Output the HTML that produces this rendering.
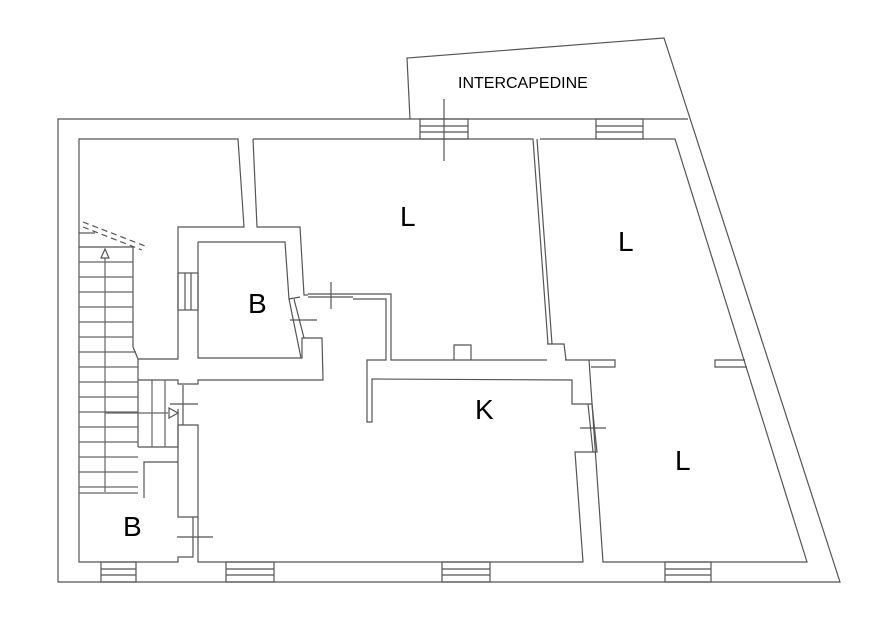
<!DOCTYPE html>
<html><head><meta charset="utf-8"><style>
html,body{margin:0;padding:0;background:#fff;width:895px;height:634px;overflow:hidden}
svg{display:block}
text{font-family:"Liberation Sans",sans-serif;fill:#000}
</style></head><body>
<svg width="895" height="634" viewBox="0 0 895 634" xmlns="http://www.w3.org/2000/svg">
<g fill="none" stroke="#555" stroke-width="1.2">
<!-- intercapedine -->
<polyline points="410,119 407,58 664,38 840,582 58,582 58,119 688,119"/>
<!-- left room -->
<polyline points="79,498 79,139 238,139 244,227 178,227 178,359 138,359 133,347 133,247"/>
<!-- L1 -->
<polyline points="253,139 257,227 300,227 304,295 308,295"/>
<polyline points="253,139 533,139 548,344"/>
<polyline points="308,297 353,297"/>
<polyline points="308,294 353,294 391,294 391,360 547,360"/>
<polyline points="353,299 386,299 386,360 367,360 367,422 372,422 372,379 572,380 572,404 592,404"/>
<!-- B room -->
<polyline points="198,242 285,242 289,299 300,297"/>
<polyline points="198,242 198,358 302,358 302,338 322,338 323,380 198,380 198,384 178,384 178,380 138,380"/>
<polyline points="289,299 301,358"/>
<polyline points="294,299 304,338"/>
<!-- L2 -->
<polyline points="540,139 675,139 807,562 603,562 589,360"/>
<polyline points="537,139 552,344"/>
<polyline points="547,344 564,344 566,360"/>
<polyline points="454,360 454,345 471,345 471,360"/>
<polyline points="565,360 615,360 615,367 591,367"/>
<polyline points="745,360 715,360 715,367 747,367"/>
<!-- K right wall -->
<polyline points="592,404 597,452 575,452 583,562 198,562 198,425 178,425 178,517 198,517"/>
<polyline points="588,404 593,452"/>
<!-- lower left B -->
<polyline points="79,498 79,562 178,562 178,557 193,557 193,517"/>
<polyline points="138,447 178,447 178,409"/>
<polyline points="144,498 144,462 178,462"/>
<polyline points="138,359 138,447"/>
<!-- corridor window -->
<rect x="178" y="273" width="20" height="37"/>
<line x1="185" y1="273" x2="185" y2="310"/><line x1="191" y1="273" x2="191" y2="310"/>
<!-- stairs -->
<line x1="79" y1="233" x2="95" y2="233"/>
<line x1="79" y1="247" x2="133" y2="247"/>
<g stroke="#666">
<line x1="79" y1="262" x2="133" y2="262"/><line x1="79" y1="277" x2="133" y2="277"/>
<line x1="79" y1="292" x2="133" y2="292"/><line x1="79" y1="307" x2="133" y2="307"/>
<line x1="79" y1="322" x2="133" y2="322"/><line x1="79" y1="337" x2="133" y2="337"/>
<line x1="79" y1="352" x2="136" y2="352"/><line x1="79" y1="367" x2="138" y2="367"/>
<line x1="79" y1="382" x2="138" y2="382"/><line x1="79" y1="397" x2="138" y2="397"/>
<line x1="79" y1="412" x2="138" y2="412"/><line x1="79" y1="427" x2="138" y2="427"/>
<line x1="79" y1="442" x2="138" y2="442"/><line x1="79" y1="457" x2="138" y2="457"/>
<line x1="79" y1="472" x2="138" y2="472"/><line x1="79" y1="487" x2="138" y2="487"/>
<line x1="79" y1="493" x2="138" y2="493"/>
<line x1="105" y1="258" x2="105" y2="492"/>
<line x1="105" y1="413" x2="168" y2="413"/>
<line x1="152" y1="380" x2="152" y2="447"/><line x1="165" y1="380" x2="165" y2="447"/>
</g>
<polygon points="105,249 101,258 109,258"/>
<polygon points="178,413 169,408 169,418"/>
<g stroke-dasharray="6,4">
<line x1="83" y1="222" x2="145" y2="246"/><line x1="83" y1="227" x2="142" y2="250"/>
</g>
<!-- windows -->
<g>
<rect x="420" y="119" width="48" height="20"/><line x1="420" y1="126" x2="468" y2="126"/><line x1="420" y1="132" x2="468" y2="132"/>
<rect x="596" y="119" width="47" height="20"/><line x1="596" y1="126" x2="643" y2="126"/><line x1="596" y1="132" x2="643" y2="132"/>
<rect x="101" y="562" width="35" height="20"/><line x1="101" y1="569" x2="136" y2="569"/><line x1="101" y1="575" x2="136" y2="575"/>
<rect x="226" y="562" width="48" height="20"/><line x1="226" y1="569" x2="274" y2="569"/><line x1="226" y1="575" x2="274" y2="575"/>
<rect x="442" y="562" width="48" height="20"/><line x1="442" y1="569" x2="490" y2="569"/><line x1="442" y1="575" x2="490" y2="575"/>
<rect x="665" y="562" width="46" height="20"/><line x1="665" y1="569" x2="711" y2="569"/><line x1="665" y1="575" x2="711" y2="575"/>
</g>
<!-- door crosses -->
<line x1="444" y1="99" x2="444" y2="161"/>
<line x1="331" y1="282" x2="331" y2="309"/>
<line x1="290" y1="320" x2="317" y2="320"/>
<line x1="170" y1="404" x2="198" y2="404"/><line x1="183" y1="385" x2="183" y2="425"/>
<line x1="177" y1="537" x2="213" y2="537"/>
<line x1="580" y1="428" x2="606" y2="428"/>
</g>
<text x="458" y="88" font-size="16">INTERCAPEDINE</text>
<text x="400" y="226" font-size="28">L</text>
<text x="618" y="251" font-size="28">L</text>
<text x="248" y="313" font-size="28">B</text>
<text x="475" y="419" font-size="28">K</text>
<text x="675" y="470" font-size="28">L</text>
<text x="123" y="536" font-size="28">B</text>
</svg>
</body></html>
